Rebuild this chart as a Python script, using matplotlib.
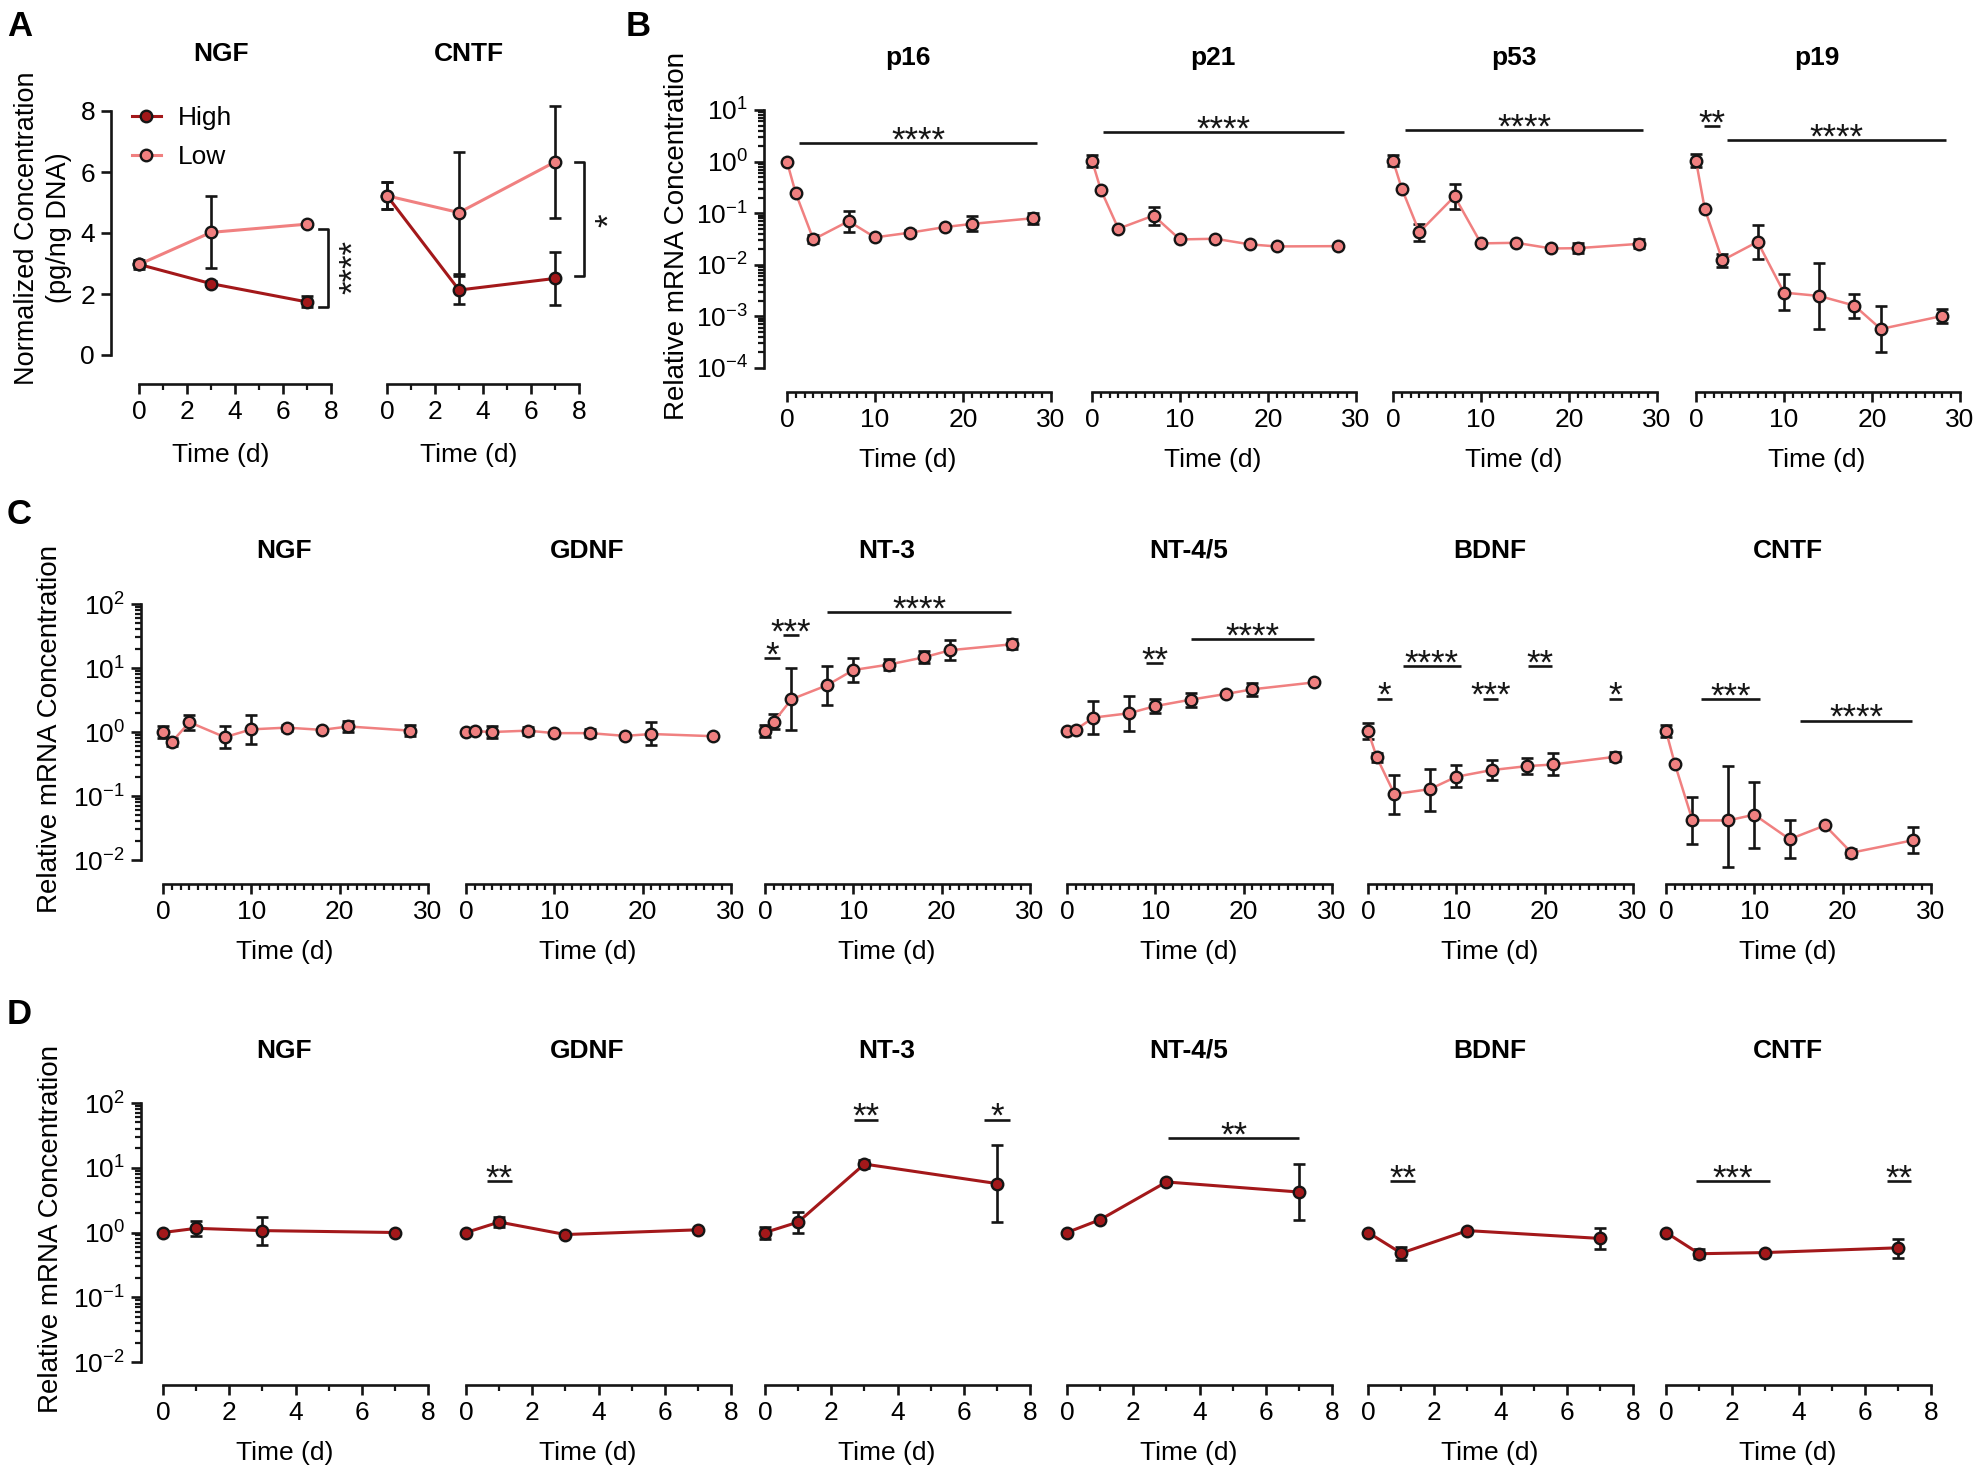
import numpy as np
import matplotlib
matplotlib.use('Agg')
import matplotlib.pyplot as plt
from matplotlib.ticker import FixedLocator, FixedFormatter, LogLocator, NullFormatter

plt.rcParams['font.family'] = ['Liberation Sans', 'DejaVu Sans']
plt.rcParams['mathtext.default'] = 'regular'

# ---------------- data ----------------
# A: normalized protein concentration (pg/ng DNA)
t_A = [0, 3, 7]
ngf_high = [2.97, 2.34, 1.74]
ngf_high_err = [0.15, 0.08, 0.18]
ngf_low = [2.97, 4.02, 4.29]
ngf_low_err = [0.10, 1.18, 0.05]
cntf_high = [5.22, 2.13, 2.51]
cntf_high_err = [0.44, 0.45, 0.87]
cntf_low = [5.22, 4.67, 6.33]
cntf_low_err = [0.44, 2.00, 1.83]

# B: senescence markers, relative mRNA (mean, lower end, upper end)
t_B = [0, 1, 3, 7, 10, 14, 18, 21, 28]
p16 = [1.0, 0.243, 0.031, 0.070, 0.034, 0.042, 0.054, 0.062, 0.080]
p16_lo = [1.0, 0.243, 0.026, 0.043, 0.034, 0.037, 0.054, 0.045, 0.063]
p16_hi = [1.0, 0.243, 0.037, 0.109, 0.034, 0.048, 0.054, 0.087, 0.100]
p21 = [1.05, 0.286, 0.050, 0.090, 0.031, 0.032, 0.0248, 0.0227, 0.023]
p21_lo = [0.80, 0.286, 0.050, 0.058, 0.031, 0.032, 0.0248, 0.0227, 0.023]
p21_hi = [1.35, 0.286, 0.050, 0.131, 0.031, 0.032, 0.0248, 0.0227, 0.023]
p53 = [1.05, 0.30, 0.043, 0.212, 0.026, 0.0267, 0.0207, 0.021, 0.0255]
p53_lo = [0.81, 0.30, 0.029, 0.12, 0.026, 0.0267, 0.0207, 0.017, 0.021]
p53_hi = [1.35, 0.30, 0.063, 0.37, 0.026, 0.0267, 0.0207, 0.026, 0.031]
p19 = [1.05, 0.121, 0.0122, 0.0279, 0.00289, 0.00249, 0.00162, 0.00057, 0.00102]
p19_lo = [0.78, 0.121, 0.0091, 0.0132, 0.00131, 0.00056, 0.00094, 0.0002, 0.00073]
p19_hi = [1.40, 0.121, 0.016, 0.059, 0.0065, 0.011, 0.0027, 0.00158, 0.00141]

# C: neurotrophic factors, low group, 28 days
t_C = [0, 1, 3, 7, 10, 14, 18, 21, 28]
c_ngf = [1.0, 0.70, 1.42, 0.83, 1.10, 1.17, 1.08, 1.22, 1.05]
c_ngf_lo = [0.80, 0.60, 1.08, 0.57, 0.66, 1.05, 1.08, 1.0, 0.87]
c_ngf_hi = [1.25, 0.80, 1.82, 1.25, 1.82, 1.30, 1.08, 1.47, 1.28]
c_gdnf = [1.0, 1.03, 1.0, 1.05, 0.96, 0.96, 0.87, 0.93, 0.86]
c_gdnf_lo = [1.0, 1.03, 0.82, 0.90, 0.96, 0.85, 0.87, 0.62, 0.86]
c_gdnf_hi = [1.0, 1.03, 1.22, 1.21, 0.96, 1.10, 0.87, 1.42, 0.86]
c_nt3 = [1.04, 1.45, 3.25, 5.35, 9.3, 11.3, 14.7, 19.0, 23.5]
c_nt3_lo = [0.83, 1.1, 1.08, 2.6, 6.0, 9.2, 11.8, 13.1, 19.7]
c_nt3_hi = [1.3, 1.88, 10.0, 10.8, 14.5, 14.0, 18.2, 27.4, 28.0]
c_nt45 = [1.05, 1.09, 1.68, 1.96, 2.54, 3.2, 3.93, 4.65, 5.96]
c_nt45_lo = [1.05, 1.09, 0.93, 1.05, 1.96, 2.5, 3.93, 3.7, 5.96]
c_nt45_hi = [1.05, 1.09, 3.05, 3.6, 3.3, 4.1, 3.93, 5.8, 5.96]
c_bdnf = [1.04, 0.40, 0.107, 0.128, 0.20, 0.254, 0.293, 0.311, 0.41]
c_bdnf_lo = [0.78, 0.34, 0.053, 0.059, 0.137, 0.18, 0.22, 0.21, 0.35]
c_bdnf_hi = [1.38, 0.47, 0.21, 0.26, 0.30, 0.36, 0.39, 0.47, 0.48]
c_cntf = [1.04, 0.318, 0.0415, 0.0415, 0.051, 0.0211, 0.0347, 0.0130, 0.0204]
c_cntf_lo = [0.85, 0.318, 0.0175, 0.0077, 0.0152, 0.0107, 0.0347, 0.0112, 0.0130]
c_cntf_hi = [1.27, 0.318, 0.096, 0.29, 0.168, 0.0415, 0.0347, 0.0151, 0.0327]

# D: neurotrophic factors, high group, 7 days
t_D = [0, 1, 3, 7]
d_ngf = [1.0, 1.16, 1.07, 1.0]
d_ngf_lo = [1.0, 0.87, 0.65, 1.0]
d_ngf_hi = [1.0, 1.5, 1.73, 1.0]
d_gdnf = [1.0, 1.45, 0.93, 1.1]
d_gdnf_lo = [1.0, 1.2, 0.93, 1.1]
d_gdnf_hi = [1.0, 1.73, 0.93, 1.1]
d_nt3 = [1.0, 1.45, 11.4, 5.7]
d_nt3_lo = [0.8, 1.0, 9.8, 1.45]
d_nt3_hi = [1.23, 2.1, 13.2, 22.2]
d_nt45 = [1.0, 1.58, 6.03, 4.22]
d_nt45_lo = [1.0, 1.58, 6.03, 1.54]
d_nt45_hi = [1.0, 1.58, 6.03, 11.6]
d_bdnf = [1.0, 0.48, 1.07, 0.81]
d_bdnf_lo = [1.0, 0.38, 1.07, 0.55]
d_bdnf_hi = [1.0, 0.60, 1.07, 1.16]
d_cntf = [1.0, 0.47, 0.49, 0.58]
d_cntf_lo = [1.0, 0.40, 0.49, 0.40]
d_cntf_hi = [1.0, 0.55, 0.49, 0.80]

# significance bars: (x start, x end, y, stars)
sig_p16 = [(1.4, 28.4, 2.27, '****')]
sig_p21 = [(1.3, 28.6, 3.7, '****')]
sig_p53 = [(1.4, 28.4, 4.1, '****')]
sig_p19 = [(0.9, 2.75, 4.9, '**'), (3.5, 28.4, 2.63, '****')]
sig_c_nt3 = [(-0.1, 1.66, 14.1, '*'), (2.0, 3.8, 32.4, '***'), (7.06, 27.9, 74.4, '****')]
sig_c_nt45 = [(9.0, 10.9, 12.1, '**'), (14.0, 28.0, 28.1, '****')]
sig_c_bdnf = [(1.0, 2.7, 3.33, '*'), (3.95, 10.5, 10.6, '****'), (13.0, 14.7, 3.33, '***'),
              (18.1, 20.8, 10.6, '**'), (27.3, 28.7, 3.33, '*')]
sig_c_cntf = [(3.94, 10.6, 3.25, '***'), (15.2, 27.9, 1.51, '****')]
sig_d_gdnf = [(0.62, 1.39, 6.2, '**')]
sig_d_nt3 = [(2.67, 3.4, 55.4, '**'), (6.6, 7.4, 55.4, '*')]
sig_d_nt45 = [(3.06, 7.0, 28.8, '**')]
sig_d_bdnf = [(0.66, 1.42, 6.2, '**')]
sig_d_cntf = [(0.91, 3.14, 6.2, '***'), (6.67, 7.39, 6.2, '**')]

# ---------------- style ----------------
LOW = '#F08080'
HIGH = '#A3181A'
EDGE = '#151515'
W, H = 1981, 1472
PX = 72 / 100.0   # points per pixel
STAR = 25

fig = plt.figure(figsize=(W / 100, H / 100), dpi=100)


def add_ax(left, top, width, height):
    return fig.add_axes([left / W, 1 - (top + height) / H, width / W, height / H])


def style_ax(ax, xmin, xmax, xmajor, xminor, offset_px, show_y, labelpad=11.5):
    ax.set_xlim(xmin, xmax)
    for s in ['top', 'right']:
        ax.spines[s].set_visible(False)
    ax.spines['bottom'].set_position(('outward', offset_px * PX))
    ax.spines['bottom'].set_bounds(0, xmax)
    for s in ['bottom', 'left']:
        ax.spines[s].set_linewidth(1.9)
        ax.spines[s].set_color(EDGE)
    ax.xaxis.set_major_locator(FixedLocator(xmajor))
    ax.xaxis.set_minor_locator(FixedLocator(xminor))
    ax.tick_params(which='major', length=7.5, width=1.9, color=EDGE, labelsize=19, pad=4)
    ax.tick_params(which='minor', length=4.2, width=1.6, color=EDGE)
    ax.set_xlabel('Time (d)', fontsize=19, labelpad=labelpad)
    if not show_y:
        ax.spines['left'].set_visible(False)
        ax.tick_params(axis='y', which='both', left=False, labelleft=False)
    ax.patch.set_alpha(0)


def log_y(ax, lo_exp, hi_exp):
    ax.set_yscale('log')
    ax.set_ylim(10.0 ** lo_exp, 10.0 ** hi_exp)
    exps = list(range(lo_exp, hi_exp + 1))
    ax.yaxis.set_major_locator(FixedLocator([10.0 ** e for e in exps]))
    ax.yaxis.set_major_formatter(FixedFormatter(['$10^{%d}$' % e for e in exps]))
    ax.yaxis.set_minor_locator(LogLocator(base=10, subs=np.arange(2, 10), numticks=20))
    ax.yaxis.set_minor_formatter(NullFormatter())


def title(ax, text, dy_px):
    bb = ax.get_position()
    ax.text(0.5, 1 + dy_px / (bb.height * H), text, transform=ax.transAxes,
            ha='center', va='center', fontsize=19, fontweight='bold')


def series(ax, t, mean, lo, hi, color, lw=1.8, label=None):
    mean = np.asarray(mean, float)
    ax.errorbar(t, mean, yerr=[mean - np.asarray(lo), np.asarray(hi) - mean], fmt='none',
                ecolor=EDGE, elinewidth=1.9, capsize=4, capthick=1.9, zorder=2, clip_on=False)
    line, = ax.plot(t, mean, '-o', color=color, lw=lw, ms=8.3, mfc=color, mec=EDGE,
                    mew=1.7, zorder=3, clip_on=False, label=label)
    return line


def sig(ax, bars):
    for x0, x1, y, stars in bars:
        ax.plot([x0, x1], [y, y], color=EDGE, lw=1.9, clip_on=False, solid_capstyle='butt')
        ax.annotate(stars, xy=((x0 + x1) / 2, y), xytext=(0, -5.4), textcoords='offset points',
                    ha='center', va='baseline', fontsize=STAR, color=EDGE)


def panel_letter(x, y, s):
    fig.text(x / W, 1 - y / H, s, fontsize=25, fontweight='bold', ha='left', va='top')


# ---------------- panel A ----------------
A_left = [111, 359]
axA = [add_ax(l, 111, 220, 244) for l in A_left]
for i, ax in enumerate(axA):
    style_ax(ax, -1.17, 8, [0, 2, 4, 6, 8], [1, 3, 5, 7], 29, i == 0, labelpad=13.5)
    ax.set_ylim(0, 8)
    ax.yaxis.set_major_locator(FixedLocator([0, 2, 4, 6, 8]))

ax = axA[0]
h1 = series(ax, t_A, ngf_high, np.subtract(ngf_high, ngf_high_err), np.add(ngf_high, ngf_high_err), HIGH, 2.2, 'High')
h2 = series(ax, t_A, ngf_low, np.subtract(ngf_low, ngf_low_err), np.add(ngf_low, ngf_low_err), LOW, 2.2, 'Low')
ax.plot([7.5, 7.87, 7.87, 7.5], [4.13, 4.13, 1.57, 1.57], color=EDGE, lw=1.9, clip_on=False)
ax.text(8.95, 2.87, '****', rotation=90, ha='center', va='center', fontsize=STAR, color=EDGE)
ax.legend(handles=[h1, h2], loc='upper left', bbox_to_anchor=(0.095, 1.02), frameon=False,
          fontsize=19, handlelength=1.1, handletextpad=0.65, labelspacing=0.58,
          borderpad=0, borderaxespad=0)
title(ax, 'NGF', 57)

ax = axA[1]
series(ax, t_A, cntf_high, np.subtract(cntf_high, cntf_high_err), np.add(cntf_high, cntf_high_err), HIGH, 2.2)
series(ax, t_A, cntf_low, np.subtract(cntf_low, cntf_low_err), np.add(cntf_low, cntf_low_err), LOW, 2.2)
ax.plot([7.83, 8.2, 8.2, 7.83], [6.33, 6.33, 2.59, 2.59], color=EDGE, lw=1.9, clip_on=False)
ax.text(9.28, 4.43, '*', rotation=90, ha='center', va='center', fontsize=STAR, color=EDGE)
title(ax, 'CNTF', 57)

fig.text(43 / W, 1 - 228 / H, 'Normalized Concentration\n(pg/ng DNA)', rotation=90,
         ha='center', va='center', fontsize=19.5, linespacing=1.3)
panel_letter(7, 10, 'A')

# ---------------- panel B ----------------
B_left = [764, 1069, 1370, 1673]
B_names = ['p16', 'p21', 'p53', 'p19']
B_vals = [(p16, p16_lo, p16_hi), (p21, p21_lo, p21_hi), (p53, p53_lo, p53_hi), (p19, p19_lo, p19_hi)]
B_sig = [sig_p16, sig_p21, sig_p53, sig_p19]
for i in range(4):
    ax = add_ax(B_left[i], 110, 287, 258)
    style_ax(ax, -2.61, 30, [0, 10, 20, 30], range(0, 31), 24, i == 0)
    log_y(ax, -4, 1)
    m, lo, hi = B_vals[i]
    series(ax, t_B, m, lo, hi, LOW)
    sig(ax, B_sig[i])
    title(ax, B_names[i], 52)
fig.text(677 / W, 1 - 236 / H, 'Relative mRNA Concentration', rotation=90,
         ha='center', va='center', fontsize=20)
panel_letter(626, 10, 'B')

# ---------------- panels C and D ----------------
CD_left = [141, 444, 743, 1045, 1346, 1644]
CD_names = ['NGF', 'GDNF', 'NT-3', 'NT-4/5', 'BDNF', 'CNTF']
C_vals = [(c_ngf, c_ngf_lo, c_ngf_hi), (c_gdnf, c_gdnf_lo, c_gdnf_hi), (c_nt3, c_nt3_lo, c_nt3_hi),
          (c_nt45, c_nt45_lo, c_nt45_hi), (c_bdnf, c_bdnf_lo, c_bdnf_hi), (c_cntf, c_cntf_lo, c_cntf_hi)]
C_sig = [[], [], sig_c_nt3, sig_c_nt45, sig_c_bdnf, sig_c_cntf]
D_vals = [(d_ngf, d_ngf_lo, d_ngf_hi), (d_gdnf, d_gdnf_lo, d_gdnf_hi), (d_nt3, d_nt3_lo, d_nt3_hi),
          (d_nt45, d_nt45_lo, d_nt45_hi), (d_bdnf, d_bdnf_lo, d_bdnf_hi), (d_cntf, d_cntf_lo, d_cntf_hi)]
D_sig = [[], sig_d_gdnf, sig_d_nt3, sig_d_nt45, sig_d_bdnf, sig_d_cntf]

for i in range(6):
    ax = add_ax(CD_left[i], 604, 287, 256)
    style_ax(ax, -2.49, 30, [0, 10, 20, 30], range(0, 31), 24, i == 0)
    log_y(ax, -2, 2)
    m, lo, hi = C_vals[i]
    series(ax, t_C, m, lo, hi, LOW)
    sig(ax, C_sig[i])
    title(ax, CD_names[i], 53)

    ax = add_ax(CD_left[i], 1103, 287, 259)
    style_ax(ax, -0.667, 8, [0, 2, 4, 6, 8], [1, 3, 5, 7], 23, i == 0)
    log_y(ax, -2, 2)
    m, lo, hi = D_vals[i]
    series(ax, t_D, m, lo, hi, HIGH, 2.2)
    sig(ax, D_sig[i])
    title(ax, CD_names[i], 52)

fig.text(50 / W, 1 - 729 / H, 'Relative mRNA Concentration', rotation=90,
         ha='center', va='center', fontsize=20)
fig.text(51 / W, 1 - 1229 / H, 'Relative mRNA Concentration', rotation=90,
         ha='center', va='center', fontsize=20)
panel_letter(7, 498, 'C')
panel_letter(7, 998, 'D')

fig.savefig('out.png', dpi=100)
